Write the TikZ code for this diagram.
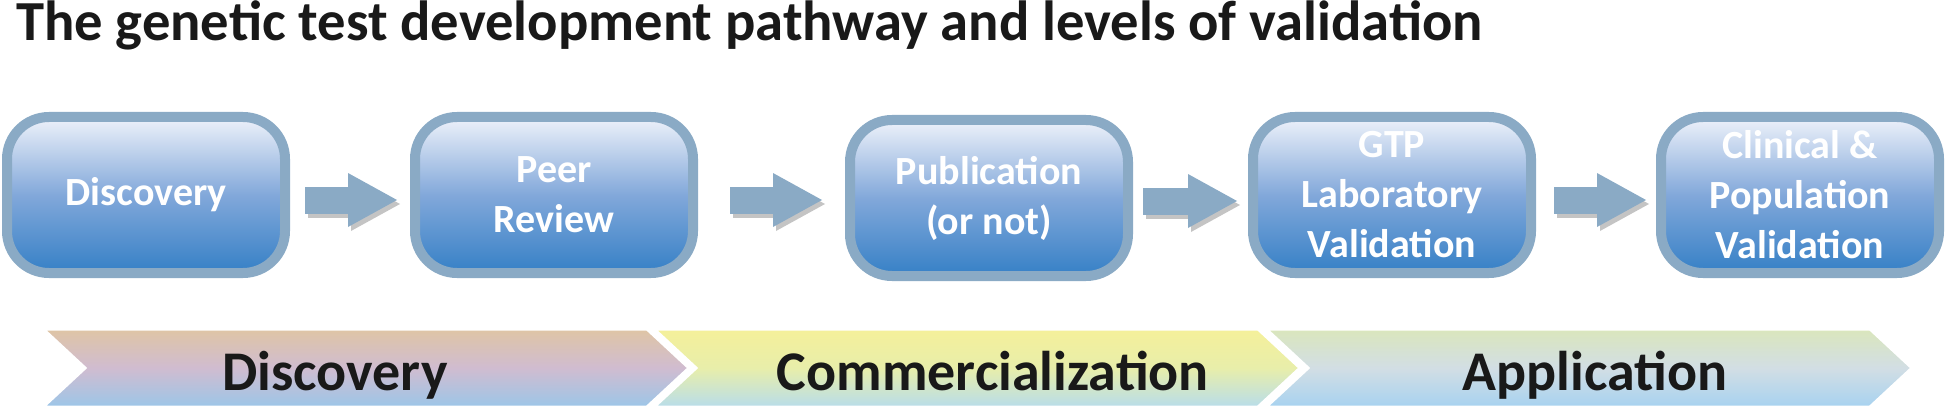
\documentclass[tikz,border=0pt]{standalone}
\usepackage{fontspec}
\setmainfont{Carlito}
\usetikzlibrary{arrows.meta}

\definecolor{stageedge}{HTML}{8AAAC5}
\definecolor{stagetop}{HTML}{EEF2FA}
\definecolor{stagemid}{HTML}{82A8DA}
\definecolor{stagebot}{HTML}{3580C6}
\definecolor{shadowgrey}{HTML}{C4C4C4}

\tikzset{
  stage/.style={rounded corners=42pt, draw=stageedge, line width=10pt,
    top color=stagetop, bottom color=stagebot, middle color=stagemid,
    minimum width=278pt, minimum height=156pt, inner sep=0pt,
    text=white, align=center, font=\fontsize{40}{50}\selectfont\bfseries},
  flow/.style={line width=27pt, -{Triangle[length=49pt,width=54pt,line width=0pt]}},
  phase/.style={draw=white, line width=3pt},
  phaselabel/.style={anchor=base, font=\fontsize{56}{60}\selectfont\bfseries, text=black!90},
}

\begin{document}
\begin{tikzpicture}[x=1pt, y=-1pt]
\useasboundingbox (0,0) rectangle (1946,409);

% title
\node[anchor=base west, inner sep=0pt, font=\fontsize{56.6}{60}\selectfont\bfseries, text=black!90]
  (title) at (16,41) {The genetic test development pathway and levels of validation};

% pathway steps
\node[stage] (discovery) at (146,195) {Discovery};
\node[stage] (review) at (554,195) {Peer\\Review};
\node[stage] (publication) at (989,198) {Publication\\(or not)};
\node[stage] (labval) at (1392,195) {GTP\\Laboratory\\Validation};
\node[stage] (popval) at (1800,195) {Clinical \&\\Population\\Validation};

% block arrows, shadow first
\begin{scope}[transform canvas={shift={(3pt,-4pt)}}]
\draw[flow, shadowgrey, shorten <=15pt, shorten >=13pt] ([yshift=-5pt]discovery.east) -- ([yshift=-5pt]review.west);
\draw[flow, shadowgrey, shorten <=32pt, shorten >=23pt] ([yshift=-5pt]review.east) -- ([yshift=-5pt]review.east -| publication.west);
\draw[flow, shadowgrey, shorten <=10pt, shorten >=11pt] ([yshift=-3pt]publication.east) -- ([yshift=-3pt]publication.east -| labval.west);
\draw[flow, shadowgrey, shorten <=18pt, shorten >=10pt] ([yshift=-5pt]labval.east) -- ([yshift=-5pt]popval.west);
\end{scope}
\draw[flow, stageedge, shorten <=15pt, shorten >=13pt] ([yshift=-5pt]discovery.east) -- ([yshift=-5pt]review.west);
\draw[flow, stageedge, shorten <=32pt, shorten >=23pt] ([yshift=-5pt]review.east) -- ([yshift=-5pt]review.east -| publication.west);
\draw[flow, stageedge, shorten <=10pt, shorten >=11pt] ([yshift=-3pt]publication.east) -- ([yshift=-3pt]publication.east -| labval.west);
\draw[flow, stageedge, shorten <=18pt, shorten >=10pt] ([yshift=-5pt]labval.east) -- ([yshift=-5pt]popval.west);

% phases
\draw[phase, top color={rgb,255:red,223;green,197;blue,165}, bottom color={rgb,255:red,156;green,198;blue,232},
  middle color={rgb,255:red,208;green,188;blue,208}]
  (43,329) -- ++(604,0) -- ++(42,39) -- ++(-42,39) -- ++(-604,0) -- ++(42,-39) -- cycle;
\draw[phase, top color={rgb,255:red,245;green,240;blue,154}, bottom color={rgb,255:red,184;green,221;blue,234},
  middle color={rgb,255:red,232;green,238;blue,170}]
  (654,329) -- ++(604,0) -- ++(42,39) -- ++(-42,39) -- ++(-604,0) -- ++(42,-39) -- cycle;
\draw[phase, top color={rgb,255:red,218;green,230;blue,188}, bottom color={rgb,255:red,167;green,210;blue,240},
  middle color={rgb,255:red,210;green,222;blue,228}]
  (1266,329) -- ++(604,0) -- ++(42,39) -- ++(-42,39) -- ++(-604,0) -- ++(42,-39) -- cycle;

\node[phaselabel] (research) at (335,390) {Discovery};
\node[phaselabel] (commerce) at (993,390) {Commercialization};
\node[phaselabel] (application) at (1595,390) {Application};
\end{tikzpicture}
\end{document}
